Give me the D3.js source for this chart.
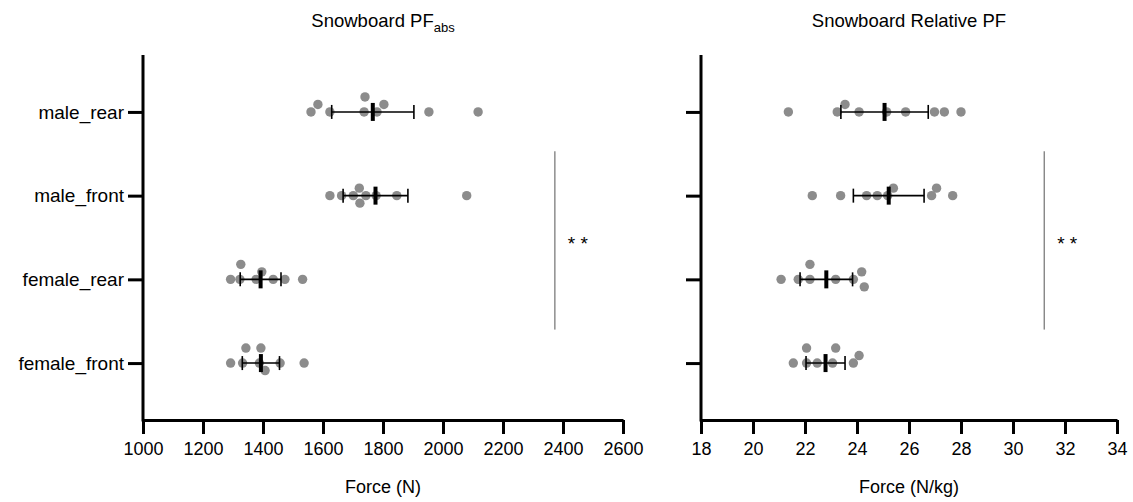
<!DOCTYPE html>
<html>
<head>
<meta charset="utf-8">
<script src="https://cdn.jsdelivr.net/npm/d3@7"></script>
<style>
  body { margin: 0; background: #fff; }
  svg { font-family: "Liberation Sans", Arial, sans-serif; }
</style>
</head>
<body>
<svg id="chart" width="1133" height="502"></svg>
<script>
// groups, top to bottom
const categories = ["male_rear", "male_front", "female_rear", "female_front"]

// peak force, absolute (N)
const absMaleRear = [1560, 1583, 1623, 1737, 1740, 1780, 1803, 1953, 2117]
const absMaleFront = [1623, 1662, 1701, 1721, 1723, 1743, 1777, 1846, 2079]
const absFemaleRear = [1292, 1323, 1326, 1377, 1396, 1434, 1473, 1532]
const absFemaleFront = [1292, 1332, 1343, 1388, 1393, 1407, 1457, 1537]
const absMean = [1766, 1775, 1392, 1393]
const absSD = [137, 108, 68, 62]
const absTicks = [1000, 1200, 1400, 1600, 1800, 2000, 2200, 2400, 2600]

// peak force, relative to body mass (N/kg)
const relMaleRear = [21.36, 23.24, 23.54, 24.08, 25.14, 25.87, 26.98, 27.36, 28.0]
const relMaleFront = [22.28, 23.37, 24.37, 24.78, 25.18, 25.4, 26.87, 27.06, 27.68]
const relFemaleRear = [21.08, 21.74, 22.19, 22.19, 23.18, 23.86, 24.18, 24.28]
const relFemaleFront = [21.55, 22.06, 22.06, 22.47, 23.06, 23.18, 23.86, 24.08]
const relMean = [25.06, 25.22, 22.82, 22.79]
const relSD = [1.68, 1.36, 1.01, 0.75]
const relTicks = [18, 20, 22, 24, 26, 28, 30, 32, 34]

// male vs female bracket
const sigLabel = "* *"
const absSigX = 2373
const relSigX = 31.2

const svg = d3.select("#chart")
const plotTop = 55, plotBottom = 420
const r = 4.7

const y = d3.scalePoint().domain(categories).range([plotTop, plotBottom]).padding(0.68)

// simple beeswarm: nudge overlapping dots up/down in steps
function swarm(values, x) {
  const placed = []
  const step = 7.5
  const offsets = [0, -step, step, -2 * step, 2 * step, -3 * step, 3 * step]
  values.slice().sort((a, b) => a - b).forEach(v => {
    const px = x(v)
    const dy = offsets.find(o => placed.every(p => Math.hypot(p.px - px, p.dy - o) >= 2 * r - 0.8))
    placed.push({ v, px, dy: dy === undefined ? 0 : dy })
  })
  return placed
}

function panel(opts) {
  const { x0, x1, domain, ticks, groups, means, sds, title, sub, xLabel, showLabels, sigX } = opts
  const x = d3.scaleLinear().domain(domain).range([x0, x1])
  const g = svg.append("g")

  // title
  const t = g.append("text")
    .attr("x", (x0 + x1) / 2).attr("y", 27)
    .attr("text-anchor", "middle").attr("font-size", 18.5).attr("fill", "#000")
  t.append("tspan").text(title)
  if (sub) t.append("tspan").attr("dy", 5).attr("font-size", 13).text(sub)

  // x axis
  g.append("g")
    .attr("transform", `translate(0,${plotBottom})`)
    .call(d3.axisBottom(x).tickValues(ticks).tickSize(14).tickPadding(8).tickSizeOuter(0).tickFormat(d3.format("d")))
    .call(a => a.select(".domain").attr("stroke", "#000").attr("stroke-width", 3))
    .call(a => a.selectAll(".tick line").attr("stroke", "#000").attr("stroke-width", 3))
    .call(a => a.selectAll(".tick text").attr("font-size", 18).attr("fill", "#000").attr("font-family", "Liberation Sans, Arial, sans-serif"))

  g.append("text")
    .attr("x", (x0 + x1) / 2).attr("y", 493)
    .attr("text-anchor", "middle").attr("font-size", 18)
    .text(xLabel)

  // y axis
  g.append("g")
    .attr("transform", `translate(${x0},0)`)
    .call(d3.axisLeft(y).tickSize(15).tickPadding(4).tickSizeOuter(0).tickFormat(showLabels ? d => d : ""))
    .call(a => a.select(".domain").attr("stroke", "#000").attr("stroke-width", 3).attr("d", `M0,${plotTop}V${plotBottom + 1.5}`))
    .call(a => a.selectAll(".tick line").attr("stroke", "#000").attr("stroke-width", 3))
    .call(a => a.selectAll(".tick text").attr("font-size", 19).attr("fill", "#000").attr("font-family", "Liberation Sans, Arial, sans-serif"))

  // dots
  categories.forEach((c, i) => {
    const cy = y(c)
    g.append("g").selectAll("circle")
      .data(swarm(groups[i], x))
      .join("circle")
      .attr("cx", d => d.px)
      .attr("cy", d => cy + d.dy)
      .attr("r", r)
      .attr("fill", "#8c8c8c")

    // mean +/- sd
    const lo = x(means[i] - sds[i]), hi = x(means[i] + sds[i]), m = x(means[i])
    const eb = g.append("g").attr("stroke", "#000")
    eb.append("line").attr("x1", lo).attr("x2", hi).attr("y1", cy).attr("y2", cy).attr("stroke-width", 1.6)
    eb.append("line").attr("x1", lo).attr("x2", lo).attr("y1", cy - 7).attr("y2", cy + 7).attr("stroke-width", 1.6)
    eb.append("line").attr("x1", hi).attr("x2", hi).attr("y1", cy - 7).attr("y2", cy + 7).attr("stroke-width", 1.6)
    eb.append("line").attr("x1", m).attr("x2", m).attr("y1", cy - 9).attr("y2", cy + 9).attr("stroke-width", 4)
  })

  // significance bracket
  const step = y.step()
  const sx = x(sigX)
  g.append("line")
    .attr("x1", sx).attr("x2", sx)
    .attr("y1", y("male_rear") + step * 0.47).attr("y2", y("female_front") - step * 0.4)
    .attr("stroke", "#555").attr("stroke-width", 1)
  g.append("text")
    .attr("x", sx + 23).attr("y", (y("male_front") + y("female_rear")) / 2 + 12)
    .attr("text-anchor", "middle").attr("font-size", 19)
    .text(sigLabel)
}

panel({
  x0: 143, x1: 623, domain: [1000, 2600], ticks: absTicks,
  groups: [absMaleRear, absMaleFront, absFemaleRear, absFemaleFront],
  means: absMean, sds: absSD,
  title: "Snowboard PF", sub: "abs", xLabel: "Force (N)", showLabels: true, sigX: absSigX
})

panel({
  x0: 701, x1: 1117, domain: [18, 34], ticks: relTicks,
  groups: [relMaleRear, relMaleFront, relFemaleRear, relFemaleFront],
  means: relMean, sds: relSD,
  title: "Snowboard Relative PF", sub: null, xLabel: "Force (N/kg)", showLabels: false, sigX: relSigX
})
</script>
</body>
</html>
